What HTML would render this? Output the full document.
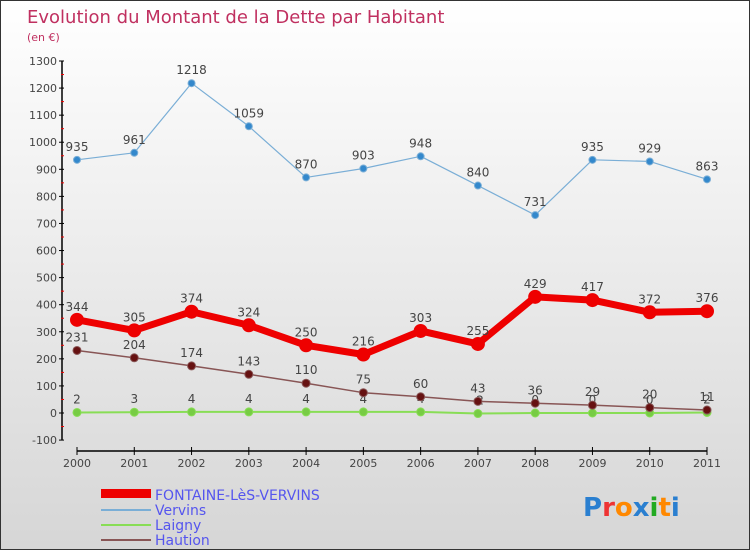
<!DOCTYPE html>
<html><head><meta charset="utf-8"><style>
body{margin:0;}
#c{width:750px;height:550px;position:relative;box-sizing:border-box;border:1px solid #333;background:linear-gradient(#fff,#d6d6d6);font-family:"DejaVu Sans","Liberation Sans",sans-serif;overflow:hidden}
text{font-family:"DejaVu Sans","Liberation Sans",sans-serif}
</style></head><body>
<div id="c">
<svg id="s" width="750" height="550">
<text x="26" y="22" font-size="18" fill="#c03060">Evolution du Montant de la Dette par Habitant</text>
<text x="26" y="40" font-size="11" fill="#c03060">(en €)</text>
<g id="g"></g>
<g>
<rect x="100" y="488" width="50" height="9" fill="#e00"/>
<text x="154" y="499" font-size="14" fill="#5555ee">FONTAINE-LèS-VERVINS</text>
<rect x="100" y="508" width="50" height="2" fill="#7aaed6"/>
<text x="154" y="514" font-size="14" fill="#5555ee">Vervins</text>
<rect x="100" y="523" width="50" height="2" fill="#88dd55"/>
<text x="154" y="529" font-size="14" fill="#5555ee">Laigny</text>
<rect x="100" y="538" width="50" height="2" fill="#885555"/>
<text x="154" y="544" font-size="14" fill="#5555ee">Haution</text>
</g>
<text x="582" y="515" font-size="26" font-weight="bold"><tspan fill="#2a7fd0">P</tspan><tspan fill="#e33">r</tspan><tspan fill="#f80">o</tspan><tspan fill="#2a7fd0">x</tspan><tspan fill="#2a2">i</tspan><tspan fill="#f80">t</tspan><tspan fill="#2a7fd0">i</tspan></text>
</svg>
</div>
<script>
const years=[2000,2001,2002,2003,2004,2005,2006,2007,2008,2009,2010,2011];
const fontaine=[344,305,374,324,250,216,303,255,429,417,372,376];
const vervins=[935,961,1218,1059,870,903,948,840,731,935,929,863];
const laigny=[2,3,4,4,4,4,4,-2,0,0,0,2];
const haution=[231,204,174,143,110,75,60,43,36,29,20,11];
const yTicks=[-100,0,100,200,300,400,500,600,700,800,900,1000,1100,1200,1300];
const NS="http://www.w3.org/2000/svg";
const g=document.getElementById('g');
const X=i=>76+i*(630/11);
const Y=v=>412-v*(352/1300);
const AX=450;
function el(t,a,p){const e=document.createElementNS(NS,t);for(const k in a)e.setAttribute(k,a[k]);(p||g).appendChild(e);return e;}
let ax=el('line',{x1:61,y1:Y(1300),x2:61,y2:Y(-100),stroke:'#000','stroke-width':1.5});


yTicks.forEach(v=>{
 el('line',{x1:58,y1:Y(v),x2:63,y2:Y(v),stroke:'#000'});
 if(v<1300) el('line',{x1:60,y1:Y(v+50),x2:63,y2:Y(v+50),stroke:'#e00'});
 const t=el('text',{x:56,y:Y(v)+4,'font-size':11,'text-anchor':'end',fill:'#444'});
 t.textContent=v;
 
 
});
let xa=el('line',{x1:X(0),y1:AX,x2:X(11),y2:AX,stroke:'#000','stroke-width':1.5});


years.forEach((y,i)=>{
 el('line',{x1:X(i),y1:AX-4,x2:X(i),y2:AX+4,stroke:'#000'});
 const t=el('text',{x:X(i),y:AX+16,'font-size':11,'text-anchor':'middle',fill:'#444'});
 t.textContent=y;
 
 
});
function series(name,vals,color,w,r,dot){
 const p=el('polyline',{points:vals.map((v,i)=>X(i)+','+Y(v)).join(' '),fill:'none',stroke:color,'stroke-width':w,'stroke-linejoin':'round'});
 
 
 vals.forEach((v,i)=>{
  const c=el('circle',{cx:X(i),cy:Y(v),r:r,fill:dot,stroke:color,'stroke-width':1});
  
  
  const t=el('text',{x:X(i),y:Y(v)-9,'font-size':12,'text-anchor':'middle',fill:'#444'});
  t.textContent=v;
  
  
 });
}
series('laigny',laigny,'#88dd55',2,4,'#77cc44');
series('haution',haution,'#885555',1.5,4,'#661111');
series('vervins',vervins,'#7aaed6',1.2,3.5,'#3388cc');
series('fontaine',fontaine,'#ee0000',7,6.5,'#ee0000');
</script>
</body></html>
